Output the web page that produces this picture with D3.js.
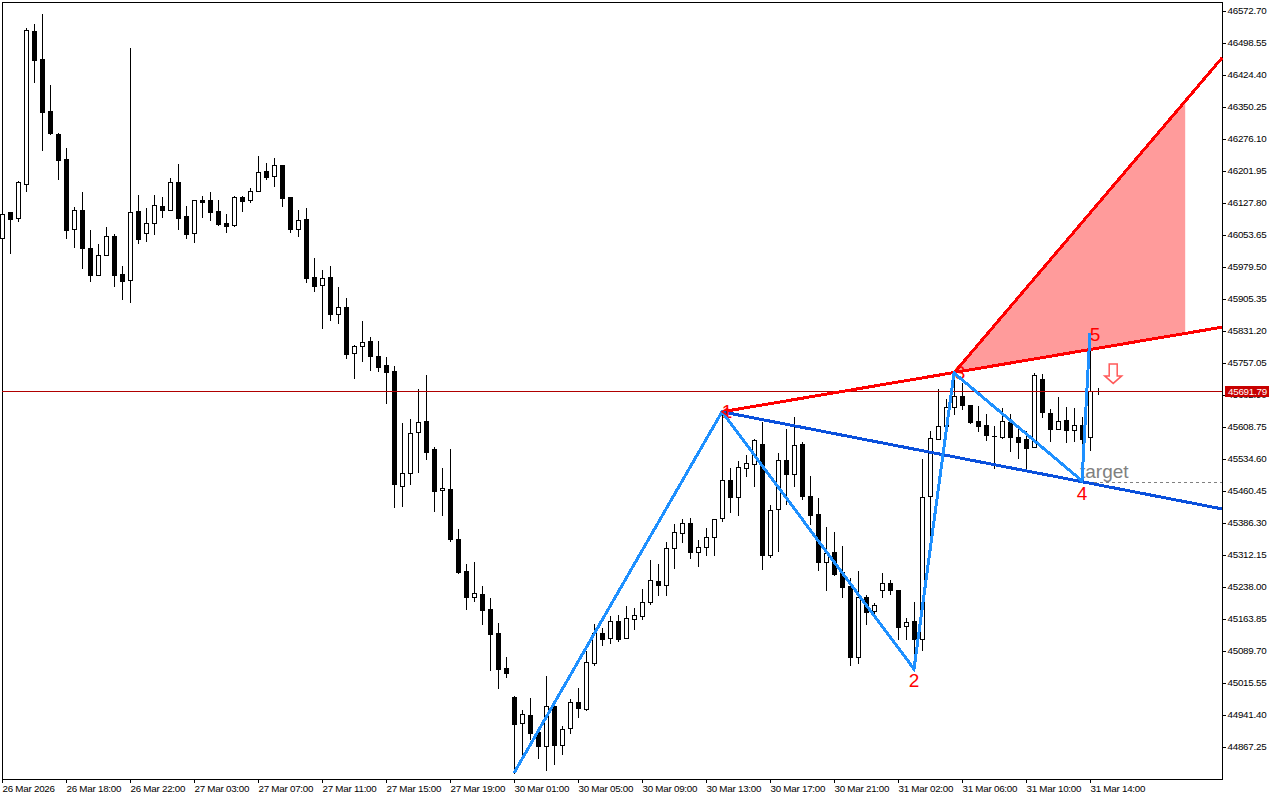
<!DOCTYPE html>
<html>
<head>
<meta charset="utf-8">
<script src="https://cdn.jsdelivr.net/npm/d3@7"></script>
<style>
  html, body { margin: 0; padding: 0; background: #fff; }
  svg { display: block; }
  .axis text, .bid-label { font-family: "Liberation Sans", sans-serif; font-size: 9.8px; letter-spacing: -0.25px; fill: #000; }
  .axis path, .axis line { stroke: #000; shape-rendering: crispEdges; }
  .jagged { shape-rendering: crispEdges; fill: none; }
</style>
</head>
<body>
<div id="chart"></div>
<script>
// M30 candles
const opens = [
  46047,46107,46093,46172,46526,46461,46341,46288,46230,46068,
  46112,46024,45961,46007,46051,45963,45949,46109,46058,46081,
  46121,46112,46176,46098,46058,46135,46135,46109,46081,46077,
  46142,46135,46156,46202,46190,46216,46142,46068,46091,45956,
  45938,45956,45871,45887,45780,45796,45808,45773,45752,45738,
  45472,45502,45597,45623,45558,45463,45465,45349,45275,45215,
  45222,45187,45131,45050,44983,44923,44941,44902,44870,44962,
  44872,44911,44972,44955,45062,45131,45120,45159,45120,45164,
  45171,45203,45252,45243,45328,45363,45386,45319,45331,45354,
  45398,45486,45447,45514,45523,45569,45312,45419,45532,45500,
  45569,45449,45407,45296,45319,45273,45240,45076,45215,45182,
  45231,45247,45231,45148,45159,45118,45449,45581,45611,45655,
  45681,45660,45623,45613,45588,45586,45620,45586,45581,45562,
  45720,45641,45604,45625,45602,45613,45586,45692
];
const highs = [
  46102,46107,46179,46533,46543,46566,46401,46290,46255,46118,
  46153,46065,46033,46072,46056,45982,46487,46146,46116,46146,
  46142,46186,46218,46121,46135,46144,46153,46135,46102,46144,
  46144,46163,46237,46220,46232,46216,46142,46112,46116,46000,
  45973,45982,45933,45908,45799,45854,45817,45808,45771,45750,
  45618,45627,45697,45729,45562,45514,45558,45372,45291,45296,
  45240,45213,45155,45076,44985,44953,44981,44904,45032,44962,
  44916,44979,45004,45090,45152,45143,45171,45173,45194,45189,
  45233,45301,45291,45342,45384,45396,45398,45347,45375,45396,
  45644,45514,45530,45544,45581,45620,45428,45549,45604,45632,
  45574,45495,45444,45377,45365,45333,45259,45275,45220,45201,
  45270,45254,45231,45166,45203,45535,45600,45697,45674,45734,
  45711,45660,45657,45639,45611,45653,45639,45613,45600,45734,
  45732,45651,45678,45655,45653,45632,45822,45698
];
const lows = [
  46047,46012,46086,46156,46408,46251,46288,46183,46047,46026,
  45977,45947,45961,46007,45935,45905,45898,46035,46040,46056,
  46095,46112,46068,46047,46037,46095,46088,46077,46061,46074,
  46109,46130,46156,46183,46167,46121,46061,46051,45945,45924,
  45838,45857,45850,45769,45722,45762,45741,45738,45664,45423,
  45426,45477,45504,45535,45414,45405,45345,45270,45187,45206,
  45152,45046,45004,45029,44807,44844,44886,44842,44814,44828,
  44851,44900,44937,44953,45057,45104,45108,45113,45120,45141,
  45164,45199,45220,45220,45282,45342,45305,45287,45312,45312,
  45391,45412,45405,45495,45472,45280,45308,45321,45430,45472,
  45442,45384,45277,45231,45266,45215,45057,45062,45152,45175,
  45215,45222,45118,45118,45074,45092,45352,45581,45602,45639,
  45651,45618,45600,45579,45514,45583,45553,45537,45511,45562,
  45632,45576,45604,45574,45576,45484,45556,45686
];
const closes = [
  46102,46091,46176,46529,46459,46339,46290,46227,46065,46112,
  46024,45961,46007,46051,45961,45947,46107,46044,46081,46123,
  46112,46176,46093,46056,46135,46130,46107,46079,46074,46142,
  46132,46156,46200,46188,46216,46139,46068,46088,45954,45935,
  45954,45871,45887,45778,45796,45806,45773,45748,45736,45477,
  45502,45595,45620,45551,45460,45467,45349,45273,45215,45224,
  45185,45129,45048,45039,44921,44944,44900,44870,44962,44872,
  44909,44972,44958,45064,45131,45118,45159,45118,45166,45173,
  45203,45254,45243,45328,45365,45386,45319,45331,45354,45396,
  45486,45447,45516,45525,45579,45312,45416,45532,45500,45567,
  45449,45405,45296,45317,45268,45238,45076,45215,45180,45196,
  45247,45231,45145,45157,45118,45447,45583,45611,45655,45681,
  45660,45620,45611,45590,45588,45623,45586,45574,45560,45729,
  45644,45604,45623,45602,45613,45581,45692,45692
];

// axis labels
const priceTicks = [46572.70,46498.55,46424.40,46350.25,46276.10,46201.95,46127.80,46053.65,
  45979.50,45905.35,45831.20,45757.05,45682.90,45608.75,45534.60,45460.45,45386.30,45312.15,
  45238.00,45163.85,45089.70,45015.55,44941.40,44867.25];
const timeTickIndex = [0,8,16,24,32,40,48,56,64,72,80,88,96,104,112,120,128,136];
const timeTickLabels = ['26 Mar 2026','26 Mar 18:00','26 Mar 22:00','27 Mar 03:00','27 Mar 07:00',
  '27 Mar 11:00','27 Mar 15:00','27 Mar 19:00','30 Mar 01:00','30 Mar 05:00','30 Mar 09:00',
  '30 Mar 13:00','30 Mar 17:00','30 Mar 21:00','31 Mar 02:00','31 Mar 06:00','31 Mar 10:00','31 Mar 14:00'];

// wave pattern
const pivotIndex = [64, 90, 114, 119, 135, 136];
const pivotPrice = [44807, 45644, 45048, 45734, 45484, 45827];
const waveLabels = ['1', '2', '3', '4', '5'];
const labelOffset = [[5, 6], [0, 18], [6, 6], [0, 19], [5, 8]];

// trend lines, last point sits on the right border
const lastIndex = 152.5;
const upperLine = [[90, 45644], [lastIndex, 45840]];
const lowerLine = [[90, 45644], [lastIndex, 45419]];
const targetRay = [[119, 45734], [lastIndex, 46464]];
const targetZone = [[119, 45734], [147.9, 46366], [147.9, 45827]];
const targetLevel = [[135, 45481], [lastIndex, 45481]];
const bidPrice = 45691.79;
const arrowIndex = 138.9;
const arrowPrice = 45755;

const chartWidth = 1280, chartHeight = 800;
const plotLeft = 2, plotRight = 1222, plotTop = 2, plotBottom = 779;

const svg = d3.select('#chart').append('svg')
    .attr('width', chartWidth)
    .attr('height', chartHeight);

const x = d3.scaleLinear().domain([0, lastIndex]).range([plotLeft, plotRight]);
const y = d3.scaleLinear().domain([priceTicks[0], priceTicks[priceTicks.length - 1]]).range([11, 747]);
const row = p => Math.round(y(p));

// Frame
svg.append('rect')
    .attr('x', plotLeft + 0.5).attr('y', plotTop + 0.5)
    .attr('width', plotRight - plotLeft).attr('height', plotBottom - plotTop)
    .attr('fill', 'none').attr('stroke', '#000')
    .style('shape-rendering', 'crispEdges');

// Axes
const yAxis = svg.append('g')
    .attr('class', 'axis')
    .attr('transform', `translate(${plotRight},0)`)
    .call(d3.axisRight(y).tickValues(priceTicks).tickFormat(d3.format('.2f')).tickSize(4).tickPadding(1.5).tickSizeOuter(0));
yAxis.select('.domain').remove();
yAxis.selectAll('text').attr('dy', '0.24em');

const xAxis = svg.append('g')
    .attr('class', 'axis')
    .attr('transform', `translate(0,${plotBottom})`)
    .call(d3.axisBottom(x).tickValues(timeTickIndex).tickFormat((d, i) => timeTickLabels[i]).tickSize(4).tickSizeOuter(0));
xAxis.select('.domain').remove();
xAxis.selectAll('text')
    .attr('text-anchor', 'start')
    .attr('x', 0).attr('y', 13).attr('dy', 0);

// Candles
const candles = d3.range(opens.length).map(i => ({
    i, open: opens[i], high: highs[i], low: lows[i], close: closes[i]
}));

const candleG = svg.append('g').style('shape-rendering', 'crispEdges');

candleG.selectAll('.wick')
    .data(candles)
    .join('line')
    .attr('class', 'wick')
    .attr('x1', d => x(d.i) + 0.5)
    .attr('x2', d => x(d.i) + 0.5)
    .attr('y1', d => row(d.high))
    .attr('y2', d => row(d.low) + 1)
    .attr('stroke', '#000');

candleG.selectAll('.body-down')
    .data(candles.filter(d => d.close <= d.open))
    .join('rect')
    .attr('class', 'body-down')
    .attr('x', d => x(d.i) - 2)
    .attr('y', d => row(d.open))
    .attr('width', 5)
    .attr('height', d => row(d.close) - row(d.open) + 1)
    .attr('fill', '#000');

candleG.selectAll('.body-up')
    .data(candles.filter(d => d.close > d.open))
    .join('rect')
    .attr('class', 'body-up')
    .attr('x', d => x(d.i) - 1.5)
    .attr('y', d => row(d.close) + 0.5)
    .attr('width', 4)
    .attr('height', d => row(d.open) - row(d.close))
    .attr('fill', '#fff')
    .attr('stroke', '#000');

// Bid line
svg.append('line')
    .attr('x1', plotLeft).attr('x2', plotRight)
    .attr('y1', row(bidPrice) + 0.5).attr('y2', row(bidPrice) + 0.5)
    .attr('stroke', '#b00000')
    .style('shape-rendering', 'crispEdges');

const line = d3.line().x(d => x(d[0])).y(d => y(d[1]));

// Target zone
svg.append('path')
    .attr('d', line(targetZone) + 'Z')
    .attr('fill', '#ff9b9b');

// Target level
svg.append('path')
    .attr('d', line(targetLevel))
    .attr('fill', 'none')
    .attr('stroke', '#808080')
    .attr('stroke-dasharray', '3,3')
    .style('shape-rendering', 'crispEdges');

svg.append('text')
    .attr('x', 1080).attr('y', 478)
    .attr('font-family', '"Liberation Sans", sans-serif')
    .attr('font-size', 19)
    .attr('fill', '#808080')
    .text('target');

// Lines
[[upperLine, '#ff0000'], [targetRay, '#ff0000'], [lowerLine, '#0a50dc']].forEach(([pts, color]) => {
    svg.append('path')
        .attr('class', 'jagged')
        .attr('d', line(pts))
        .attr('stroke', color)
        .attr('stroke-width', 3);
});

// Wave numbers
svg.selectAll('.wave-label')
    .data(waveLabels)
    .join('text')
    .attr('class', 'wave-label')
    .attr('x', (d, i) => x(pivotIndex[i + 1]) + labelOffset[i][0])
    .attr('y', (d, i) => y(pivotPrice[i + 1]) + labelOffset[i][1])
    .attr('text-anchor', 'middle')
    .attr('font-family', '"Liberation Sans", sans-serif')
    .attr('font-size', 19)
    .attr('fill', '#ff0000')
    .text(d => d);

svg.append('path')
    .attr('class', 'jagged')
    .attr('d', line(pivotIndex.map((d, i) => [d, pivotPrice[i]])))
    .attr('stroke', '#1e90ff')
    .attr('stroke-width', 3);

// Small arrow head at wave 1 end
svg.append('path')
    .attr('d', `M${x(90) + 6},${y(45644) - 4}L${x(90)},${y(45644)}L${x(90) + 6},${y(45644) + 4}`)
    .attr('fill', 'none')
    .attr('stroke', '#ff0000')
    .attr('stroke-width', 1.5);

// Sell arrow
const ax = x(arrowIndex), ay = y(arrowPrice);
svg.append('path')
    .attr('d', `M${ax - 4},${ay}h8v12h4.5l-8.5,7.5l-8.5,-7.5h4.5z`)
    .attr('fill', '#fff')
    .attr('stroke', '#ff5a5a')
    .attr('stroke-width', 1.5);

// Bid label
svg.append('rect')
    .attr('x', plotRight + 3).attr('y', row(bidPrice) - 5)
    .attr('width', 44).attr('height', 11)
    .attr('fill', '#c80000');
svg.append('text')
    .attr('class', 'bid-label')
    .attr('x', plotRight + 6).attr('y', row(bidPrice) + 3.5)
    .style('fill', '#fff')
    .text(d3.format('.2f')(bidPrice));
</script>
</body>
</html>
